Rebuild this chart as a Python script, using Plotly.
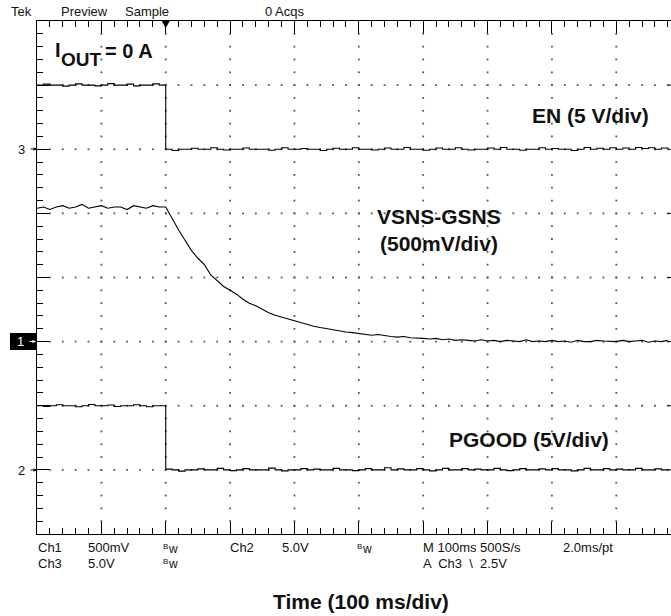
import plotly.graph_objects as go

# ---------------- data (read from the scope capture) ----------------
SAMPLE_STEP_MS = 10
# CH3: EN (5 V/div), volts
en_v = [5.00, 5.08, 5.00, 5.00, 4.92, 5.00, 5.10, 5.00, 5.00, 4.94,
        5.00, 5.12, 5.00, 5.00, 5.08, 4.94, 5.00, 5.00, 5.10, 5.00,
        0.00, -0.10, 0.00, 0.00, 0.08, 0.00, 0.00, 0.12, 0.00, -0.06,
        0.00, 0.00, 0.10, 0.00, 0.00, 0.00, -0.08, 0.00, 0.12, 0.00,
        0.00, 0.06, 0.00, 0.00, -0.10, 0.00, 0.08, 0.00, 0.00, 0.12,
        0.00, 0.00, -0.06, 0.00, 0.10, 0.00, 0.00, 0.14, 0.00, 0.00,
        -0.08, 0.00, 0.10, 0.00, 0.00, 0.12, 0.00, -0.06, 0.00, 0.00,
        0.10, 0.00, 0.14, 0.00, 0.00, -0.08, 0.00, 0.00, 0.12, 0.00,
        0.06, 0.00, 0.00, -0.10, 0.00, 0.14, 0.00, 0.08, 0.00, 0.12,
        0.00, 0.10, 0.00, 0.14, 0.06, 0.12, 0.00, 0.10, 0.08]
# CH1: VSNS-GSNS (500 mV/div), volts
vsns_v = [1.04, 1.05, 1.03, 1.05, 1.06, 1.04, 1.05, 1.07, 1.04, 1.05,
          1.06, 1.04, 1.05, 1.05, 1.03, 1.06, 1.05, 1.04, 1.06, 1.05,
          1.05, 0.955, 0.87, 0.79, 0.71, 0.65, 0.60, 0.52, 0.475, 0.43,
          0.40, 0.37, 0.33, 0.30, 0.28, 0.25, 0.225, 0.205, 0.19, 0.175,
          0.16, 0.145, 0.13, 0.12, 0.11, 0.10, 0.095, 0.085, 0.075, 0.07,
          0.065, 0.06, 0.05, 0.055, 0.045, 0.04, 0.035, 0.04, 0.03, 0.03,
          0.025, 0.02, 0.025, 0.015, 0.02, 0.01, 0.015, 0.01, 0.005, 0.015,
          0.005, 0.01, 0.0, 0.01, 0.005, 0.0, 0.015, 0.0, 0.005, 0.0,
          0.01, 0.0, 0.005, -0.005, 0.01, 0.0, 0.0, 0.01, 0.005, 0.0,
          0.0, 0.01, 0.0, 0.005, 0.01, -0.005, 0.005, 0.0, 0.01]
# CH2: PGOOD (5 V/div), volts
pgood_v = [5.00, 4.94, 5.00, 5.08, 5.00, 5.00, 4.92, 5.00, 5.10, 5.00,
           5.00, 5.06, 4.94, 5.00, 5.00, 5.08, 5.00, 4.92, 5.00, 5.00,
           0.06, 0.00, -0.10, 0.00, 0.00, 0.08, 0.00, 0.00, 0.12, 0.00,
           -0.06, 0.00, 0.10, 0.00, 0.00, 0.00, 0.14, 0.00, -0.08, 0.00,
           0.00, 0.10, 0.00, 0.06, 0.00, 0.00, 0.12, 0.00, 0.00, -0.06,
           0.00, 0.10, 0.00, 0.00, 0.16, 0.00, 0.08, 0.00, 0.00, 0.10,
           0.00, -0.08, 0.00, 0.12, 0.00, 0.00, 0.10, 0.00, 0.06, 0.00,
           0.00, 0.12, 0.00, -0.06, 0.00, 0.10, 0.00, 0.00, 0.08, 0.00,
           0.10, 0.00, 0.00, -0.08, 0.00, 0.12, 0.00, 0.00, 0.10, 0.00,
           0.06, 0.00, 0.00, 0.12, 0.00, 0.00, 0.08, 0.00, 0.06]

time_ms = [i * SAMPLE_STEP_MS for i in range(len(en_v))]

# channel settings: (ground position in divisions from bottom, volts/div)
CH3 = (6.0, 5.0)
CH1 = (3.0, 0.5)
CH2 = (1.0, 5.0)

def to_div(values, ch):
    off, scale = ch
    return [off + v / scale for v in values]

# ---------------- geometry ----------------
FIG_W, FIG_H = 671, 616
L, T, R, B = 37, 21, 0, 82
PW, PH = FIG_W - L - R, FIG_H - T - B
X_RANGE = [0, 985]
Y_RANGE = [0, 8]

def fx(px):
    return (px - L) / PW

def fy(py):
    return (T + PH - py) / PH

fig = go.Figure()

# graticule dots
gx, gy = [], []
for xm in range(100, 1000, 100):
    for k in range(1, 40):
        gx.append(xm); gy.append(k * 0.2)
for ym in range(1, 8):
    for k in range(1, 50):
        gx.append(k * 20); gy.append(ym)
fig.add_trace(go.Scatter(x=gx, y=gy, mode="markers", hoverinfo="skip",
                         marker=dict(symbol="square", size=1.8, color="#555"),
                         showlegend=False))

line_style = dict(color="black", width=1.1)
fig.add_trace(go.Scatter(x=time_ms, y=to_div(en_v, CH3), mode="lines",
                         line=dict(shape="hv", **line_style), showlegend=False))
fig.add_trace(go.Scatter(x=time_ms, y=to_div(vsns_v, CH1), mode="lines",
                         line=line_style, showlegend=False))
fig.add_trace(go.Scatter(x=time_ms, y=to_div(pgood_v, CH2), mode="lines",
                         line=dict(shape="hv", **line_style), showlegend=False))

shapes = []
# trigger marker at the top
shapes.append(dict(type="path", xref="x", yref="paper", xsizemode="pixel", ysizemode="pixel",
                   xanchor=200, yanchor=1, path="M -4,0 L 4,0 L 0,-7 Z",
                   fillcolor="black", line=dict(width=0)))
# right-edge major ticks (frame lies just outside the picture)
for ym in range(1, 8):
    shapes.append(dict(type="line", xref="paper", yref="y", x0=fx(668), x1=1, y0=ym, y1=ym,
                       line=dict(color="black", width=1)))
# CH1 marker box
shapes.append(dict(type="rect", xref="paper", yref="paper", x0=fx(10), x1=fx(37),
                   y0=fy(350), y1=fy(333), fillcolor="black", line=dict(width=0)))

annotations = []

def txt(text, px, py, size, bold=False, color="#111", anchor="left", family=None):
    annotations.append(dict(
        text=f"<b>{text}</b>" if bold else text, xref="paper", yref="paper",
        x=fx(px), y=fy(py), xanchor=anchor, yanchor="middle", showarrow=False,
        borderpad=0,
        font=dict(size=size, color=color,
                  family=family or ("Liberation Sans, Arial, sans-serif"))))

def arrow(px, py, color):
    annotations.append(dict(text="", xref="paper", yref="paper", x=fx(px), y=fy(py),
                            ax=-8, ay=0, showarrow=True, arrowhead=2, arrowsize=0.7,
                            arrowwidth=1, arrowcolor=color))

# channel ground markers
txt("3", 21, 149, 13, anchor="center")
arrow(37, 149, "#111")
txt("1", 20.5, 341.5, 13, color="white", anchor="center")
arrow(36, 341.5, "white")
txt("2", 21, 470, 13, anchor="center")
arrow(37, 470, "#111")

# header
txt("Tek", 10, 12, 13)
txt("Preview", 60, 12, 13)
txt("Sample", 124, 12, 13)
txt("0 Acqs", 264, 12, 13)

# bottom readout
row1, row2 = 548, 563
txt("Ch1", 37, row1, 13); txt("500mV", 87, row1, 13)
txt("Ch2", 229, row1, 13); txt("5.0V", 281, row1, 13)
txt("M 100ms 500S/s", 422, row1, 13); txt("2.0ms/pt", 562, row1, 13)
txt("Ch3", 37, row2, 13); txt("5.0V", 87, row2, 13)
txt("A  Ch3  \\  2.5V", 422, row2, 13)
for bx, by in [(162, row1), (162, row2), (356, row1)]:
    txt("B", bx, by - 2, 8)
    txt("w", bx + 5, by + 1, 12)

# bold labels
txt("I", 54, 50, 20, bold=True)
txt("OUT", 59.5, 59, 19, bold=True)
txt("= 0 A", 104, 51, 20, bold=True)
txt("EN (5 V/div)", 531, 115, 21, bold=True)
txt("VSNS-GSNS", 376, 216, 21, bold=True)
txt("(500mV/div)", 379, 243, 21, bold=True)
txt("PGOOD (5V/div)", 448, 439, 21, bold=True)
txt("Time (100 ms/div)", 272, 601, 21, bold=True)

axis_common = dict(showgrid=False, zeroline=False, showticklabels=False,
                   showline=True, linecolor="black", linewidth=1,
                   ticks="inside", ticklen=12, tickwidth=1, tickcolor="black")
fig.update_layout(
    width=FIG_W, height=FIG_H,
    margin=dict(l=L, r=R, t=T, b=B),
    paper_bgcolor="white", plot_bgcolor="white",
    xaxis=dict(range=X_RANGE, tick0=0, dtick=100, mirror="ticks",
               minor=dict(ticks="inside", ticklen=6, dtick=20, tickcolor="black", tickwidth=1),
               **axis_common),
    yaxis=dict(range=Y_RANGE, tick0=0, dtick=1, mirror=False,
               minor=dict(ticks="inside", ticklen=6, dtick=0.2, tickcolor="black", tickwidth=1),
               **axis_common),
    shapes=shapes, annotations=annotations, showlegend=False,
)

fig.write_html("out.html", config={"displayModeBar": False},
               post_script="document.body.style.margin='0';document.body.style.padding='0';")
